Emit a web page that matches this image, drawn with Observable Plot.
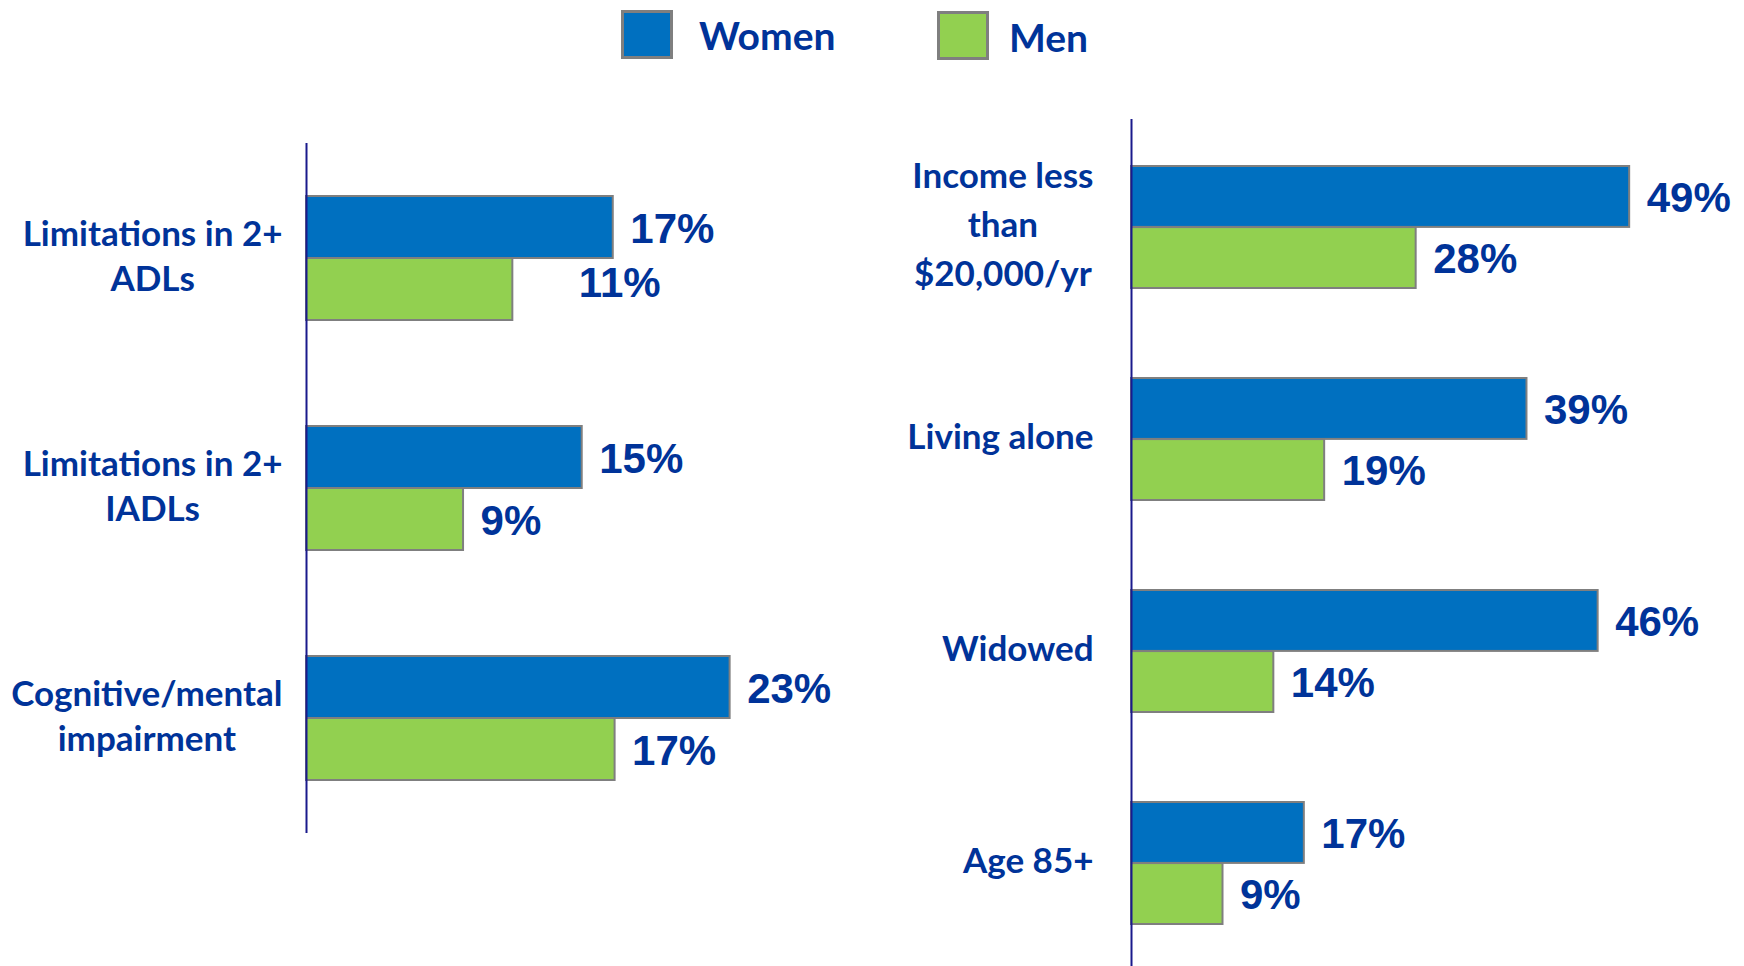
<!DOCTYPE html>
<html>
<head>
<meta charset="utf-8">
<script src="https://cdn.jsdelivr.net/npm/d3@7"></script>
<script src="https://cdn.jsdelivr.net/npm/@observablehq/plot@0.6"></script>
<style>
  html, body { margin: 0; padding: 0; background: #fff; }
  #chart { position: relative; width: 1744px; height: 966px; overflow: hidden; background: #fff; }
  #chart svg { position: absolute; top: 0; background: transparent; overflow: visible; }
  .legend { position: absolute; top: 0; left: 0; width: 1744px; height: 70px; z-index: 2;
            font-family: Lato, sans-serif; font-weight: bold; color: #003399; font-size: 39px; }
  .sw { position: absolute; box-sizing: border-box; width: 52px; height: 49px; border: 3px solid #7f7f7f; }
  .lab { position: absolute; line-height: 1; white-space: nowrap; }
</style>
</head>
<body>
<div id="chart"></div>
<script>
// ---- data (labels show them rounded) ----
const series = ["Women", "Men"];
const seriesColors = ["#0070C0", "#92D050"];

const leftCategories = ["Limitations in 2+\nADLs", "Limitations in 2+\nIADLs", "Cognitive/mental\nimpairment"];
const leftWomen = [16.8, 15.1, 23.2];
const leftMen = [11.3, 8.6, 16.9];

const rightCategories = ["Income less\nthan\n$20,000/yr", "Living alone", "Widowed", "Age 85+"];
const rightWomen = [49, 38.9, 45.9, 17];
const rightMen = [28, 19, 14, 9];

// ---- helpers ----
const textColor = "#003399";
const color = d3.scaleOrdinal(series, seriesColors);

function rowsOf(cats, women, men) {
  const rows = [];
  cats.forEach((c, i) => {
    rows.push({cat: c, sex: "Women", value: women[i]});
    rows.push({cat: c, sex: "Men", value: men[i]});
  });
  return rows;
}

function panel(o) {
  const rows = rowsOf(o.cats, o.women, o.men);
  const n = o.cats.length;
  const range = o.height - o.mt - o.mb;
  const step = range / (n - o.pi + 2 * o.po);
  const bw = step * (1 - o.pi);
  const W = rows.filter(d => d.sex === "Women");
  const M = rows.filter(d => d.sex === "Men");
  const isNudged = d => o.nudge && d.cat === o.nudge.cat && d.sex === o.nudge.sex;
  const valueText = {
    x: "value", y: "cat", text: d => Math.round(d.value) + "%", textAnchor: "start",
    fontFamily: "'Liberation Sans', Arial, sans-serif", fontWeight: "bold", fontSize: 42, fill: textColor
  };
  const svg = Plot.plot({
    width: o.width, height: o.height,
    marginTop: o.mt, marginBottom: o.mb, marginLeft: o.ml, marginRight: o.mr,
    x: {domain: [0, o.xMax], axis: null},
    y: {domain: o.cats, paddingInner: o.pi, paddingOuter: o.po, axis: null},
    color: {domain: series, range: seriesColors},
    style: {fontFamily: "Lato, sans-serif", fontWeight: "bold", color: textColor, background: "transparent", overflow: "visible"},
    marks: [
      Plot.barX(W, {x: "value", y: "cat", fill: "sex", stroke: "#7f7f7f", strokeWidth: 2, insetBottom: bw / 2}),
      Plot.barX(M, {x: "value", y: "cat", fill: "sex", stroke: "#7f7f7f", strokeWidth: 2, insetTop: bw / 2}),
      Plot.ruleX([0], {stroke: "#1a1a8c", strokeWidth: 2}),
      Plot.axisY({label: null, tickSize: 0, tickPadding: 0, textAnchor: "middle", fontSize: o.fs, lineHeight: o.lh,
                  dy: o.labelDy, fill: textColor, fontWeight: "bold"}),
      Plot.text(W, {...valueText, dx: 17, dy: -bw / 4 + 2}),
      Plot.text(M.filter(d => !isNudged(d)), {...valueText, dx: 17, dy: bw / 4 + 2}),
      Plot.text(M.filter(isNudged), {...valueText, dx: o.nudge ? o.nudge.dx : 17, dy: bw / 4 + 2 + (o.nudge ? o.nudge.dy : 0)})
    ]
  });
  svg.style.left = o.left + "px";
  document.getElementById("chart").appendChild(svg);
  // right-align each (centered) category label block against the axis
  svg.querySelectorAll('g[aria-label="y-axis tick label"] text').forEach(t => {
    const b = t.getBBox();
    const shift = -o.gap - b.width / 2 - (b.x + b.width / 2);
    t.setAttribute("transform", (t.getAttribute("transform") || "") + ` translate(${shift},0)`);
  });
  return svg;
}

panel({cats: leftCategories, women: leftWomen, men: leftMen, left: 0,
       width: 870, height: 966, mt: 143, mb: 133, ml: 306, mr: 16.2, xMax: 30,
       pi: 0.461, po: 0.2304, fs: 35, lh: 45 / 35, labelDy: -4, gap: 24,
       nudge: {cat: leftCategories[0], sex: "Men", dx: 66, dy: -8}});

panel({cats: rightCategories, women: rightWomen, men: rightMen, left: 870,
       width: 874, height: 966, mt: 119, mb: -4, ml: 261, mr: 3, xMax: 60,
       pi: 0.426, po: 0.212, fs: 35, lh: 49 / 35, labelDy: -6, gap: 38});

// ---- legend ----
const legend = document.createElement("div");
legend.className = "legend";
const legendPos = [{sq: [621, 10], tx: [699, 16]}, {sq: [937, 11], tx: [1009, 18]}];
series.forEach((s, i) => {
  const sq = document.createElement("div");
  sq.className = "sw";
  sq.style.left = legendPos[i].sq[0] + "px";
  sq.style.top = legendPos[i].sq[1] + "px";
  sq.style.background = color(s);
  const lb = document.createElement("div");
  lb.className = "lab";
  lb.style.left = legendPos[i].tx[0] + "px";
  lb.style.top = legendPos[i].tx[1] + "px";
  lb.textContent = s;
  legend.appendChild(sq);
  legend.appendChild(lb);
});
document.getElementById("chart").appendChild(legend);
</script>
</body>
</html>
